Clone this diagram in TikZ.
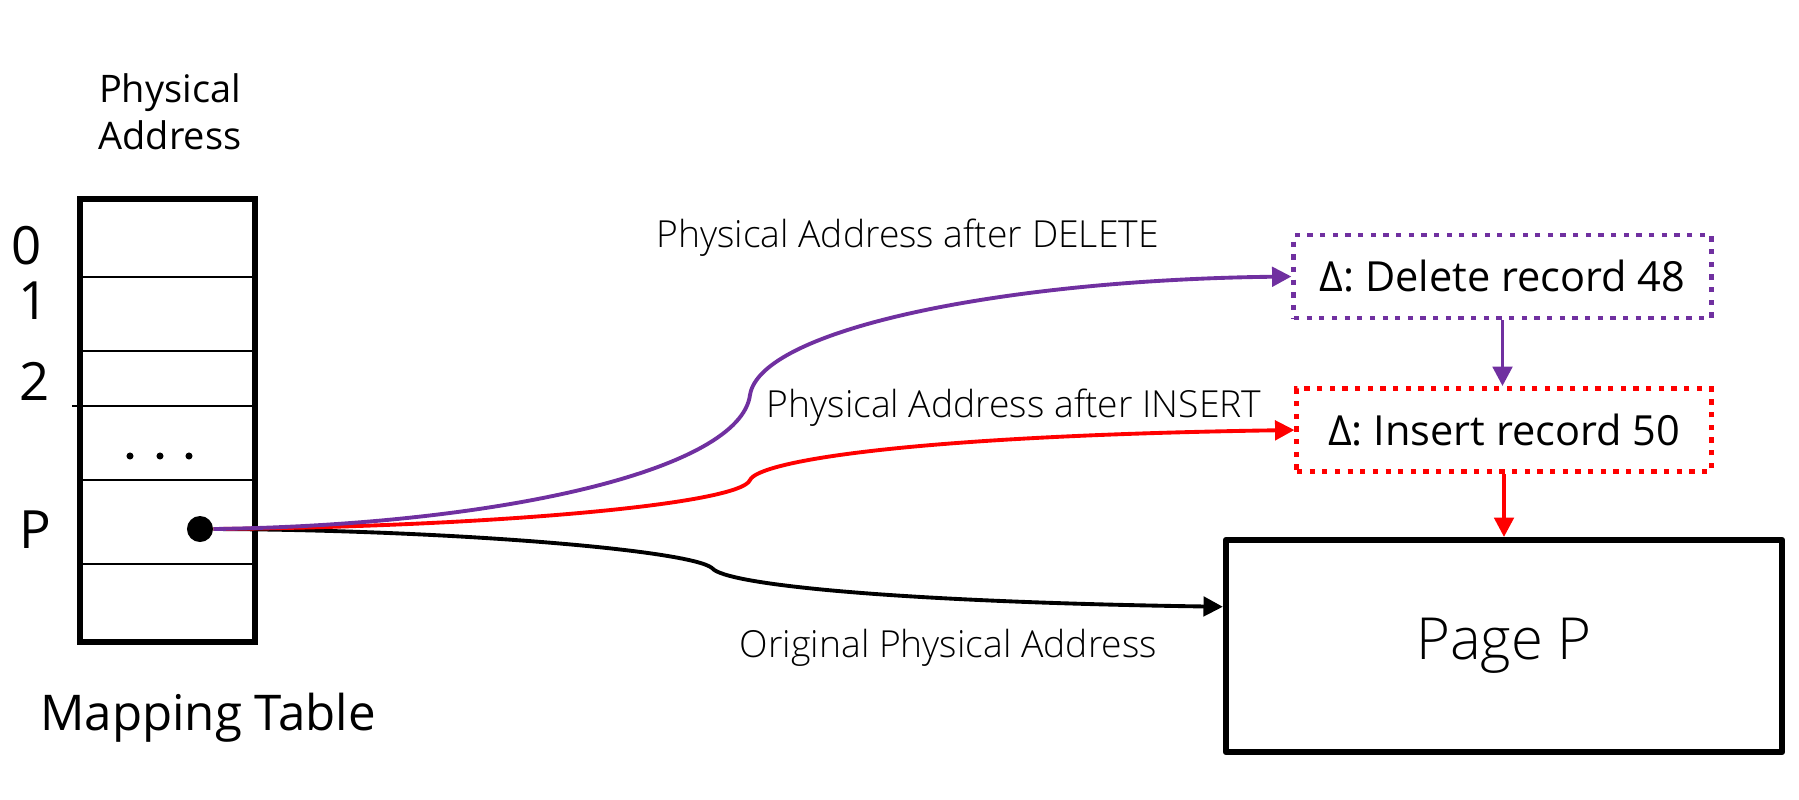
\documentclass[tikz,border=0pt]{standalone}
\usepackage{fontspec}
\setmainfont{Open Sans}
\newfontfamily\lightfont{Open Sans Light}
\usetikzlibrary{arrows.meta, calc}
\definecolor{delpurple}{RGB}{112,48,160}

\begin{document}
\begin{tikzpicture}[x=0.01cm,y=-0.01cm,
cell/.style={line width=0.8pt},
ptrarrow/.style={line width=1.1pt, -{Triangle[length=5.5pt,width=5.5pt]}},
deltabox/.style={draw, line width=1.4pt, dash pattern=on 1.5pt off 2.1pt, minimum height=0.83cm, inner sep=0pt, font=\fontsize{11.8}{14}\selectfont},
caption/.style={anchor=base, font=\lightfont\fontsize{10.6}{12}\selectfont}]
\useasboundingbox (0,0) rectangle (1799,799);
% mapping table
\node[draw, line width=1.7pt, minimum width=1.75cm, minimum height=4.43cm, inner sep=0pt] (table) at (167.5,420.5) {};
\foreach \y in {277,351,480,564}
\draw[cell] (80,\y) -- (255,\y);
\draw[cell] (72,406) -- (253,406);
\foreach \x in {130,160,189}
\fill (\x,456) circle (1pt);
\node[align=center, font=\fontsize{10.8}{13.4}\selectfont] (physaddr) at (170,112) {Physical\\Address};
\foreach \t/\x/\y in {0/27/246, 1/34/301, 2/34.5/381, P/35/530}
\node[font=\fontsize{15}{18}\selectfont] (row\t) at (\x,\y) {\t};
\node[anchor=base, font=\fontsize{14}{17}\selectfont] (maptable) at (208,730) {Mapping Table};
\node[circle, fill, inner sep=0pt, minimum size=7.4pt] (ptr) at (200,529) {};
% deltas and page
\node[deltabox, draw=delpurple, minimum width=4.17cm] (del) at (1502.5,276.5) {Δ: Delete record 48};
\node[deltabox, draw=red, minimum width=4.14cm] (ins) at (1504,430) {Δ: Insert record 50};
\node[draw, line width=1.7pt, line join=round, minimum width=5.56cm, minimum height=2.12cm, font=\lightfont\fontsize{16.5}{19}\selectfont] (page) at (1504,646) {Page P};
\coordinate (pagein) at ($(page.north west)!0.32!(page.south west)$);
% pointers
\draw[ptrarrow] (ptr.east) .. controls (450,530) and (690,550) .. (712,568) .. controls (725,585) and (900,602) .. (pagein);
\draw[ptrarrow, red] (ptr.east) .. controls (480,527) and (740,505) .. (750,480) .. controls (758,462) and (900,436) .. (ins.west);
\draw[ptrarrow, delpurple] (ptr.east) .. controls (500,525) and (740,470) .. (750,395) .. controls (760,330) and (1000,280) .. (del.west);
\draw[ptrarrow, delpurple] (del.south) -- (del.south |- ins.north);
\draw[ptrarrow, red] (ins.south) -- (ins.south |- page.north);
\node[caption] (capdel) at (907.5,247) {Physical Address after DELETE};
\node[caption] (capins) at (1014,417) {Physical Address after INSERT};
\node[caption] (caporig) at (948.5,657) {Original Physical Address};
\end{tikzpicture}
\end{document}
